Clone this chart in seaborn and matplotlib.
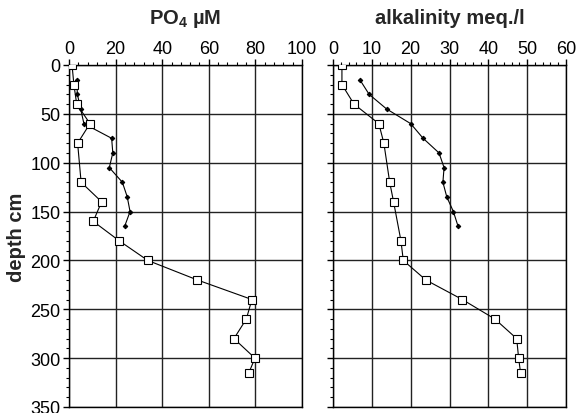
import matplotlib
matplotlib.use("Agg")
import matplotlib.pyplot as plt
import seaborn as sns
import pandas as pd
from matplotlib.ticker import MultipleLocator

# ---- data ----
sq_depth_po4 = [0, 20, 40, 60, 80, 120, 140, 160, 180, 200, 220, 240, 260, 280, 300, 315]
sq_po4 = [1.3, 2.1, 3.3, 9.0, 3.7, 5.2, 14.0, 10.4, 21.6, 33.8, 55.1, 78.5, 76.1, 70.8, 79.8, 77.2]
dot_depth = [15, 30, 45, 60, 75, 90, 105, 120, 135, 150, 165]
dot_po4 = [3.3, 3.6, 5.0, 6.4, 18.3, 18.8, 17.3, 22.9, 25.0, 26.2, 23.9]

sq_depth_alk = [0, 20, 40, 60, 80, 120, 140, 180, 200, 220, 240, 260, 280, 300, 315]
sq_alk = [2.3, 2.3, 5.4, 11.8, 13.1, 14.6, 15.6, 17.5, 18.1, 23.9, 33.3, 41.7, 47.3, 47.8, 48.3]
dot_alk = [6.9, 9.3, 13.8, 20.0, 23.2, 27.3, 28.6, 28.3, 29.3, 31.0, 32.2]

titles = [r"PO$_\mathbf{4}$ µM", "alkalinity meq./l"]
ylabel = "depth cm"

sns.set_theme(style="white")
plt.rcParams["font.family"] = ["Liberation Sans", "DejaVu Sans"]
plt.rcParams["mathtext.fontset"] = "custom"
plt.rcParams["mathtext.rm"] = "Liberation Sans"
plt.rcParams["mathtext.bf"] = "Liberation Sans:bold"

fig = plt.figure(figsize=(5.8, 4.14), dpi=100)
ax1 = fig.add_axes([69/580, 6/414, 233/580, 342/414])
ax2 = fig.add_axes([333/580, 6/414, 233/580, 342/414])

panels = [
    (ax1, sq_po4, sq_depth_po4, dot_po4, (0, 100), 20, 4),
    (ax2, sq_alk, sq_depth_alk, dot_alk, (0, 60), 10, 2),
]

for i, (ax, sx, sy, dx, xlim, major, minor) in enumerate(panels):
    dfs = pd.DataFrame({"x": sx, "y": sy})
    dfd = pd.DataFrame({"x": dx, "y": dot_depth})
    sns.lineplot(data=dfd, x="x", y="y", sort=False, estimator=None, ax=ax,
                 color="black", lw=0.8, marker="D", markersize=2.3,
                 markerfacecolor="black", markeredgecolor="black", zorder=3)
    sns.lineplot(data=dfs, x="x", y="y", sort=False, estimator=None, ax=ax,
                 color="black", lw=0.8, marker="s", markersize=5.5,
                 markerfacecolor="white", markeredgecolor="black",
                 markeredgewidth=0.8, zorder=4)
    ax.set_xlim(*xlim)
    ax.set_ylim(350, 0)
    ax.xaxis.set_major_locator(MultipleLocator(major))
    ax.xaxis.set_minor_locator(MultipleLocator(minor))
    ax.yaxis.set_major_locator(MultipleLocator(50))
    ax.yaxis.set_minor_locator(MultipleLocator(10))
    ax.xaxis.tick_top()
    ax.xaxis.set_label_position("top")
    ax.tick_params(axis="both", which="major", direction="out", length=4,
                   width=1, color="black", labelsize=13, pad=2,
                   labelcolor="black")
    ax.tick_params(axis="both", which="minor", direction="out", length=2.5,
                   width=0.8, color="black")
    ax.tick_params(axis="x", which="both", top=True, bottom=False)
    ax.tick_params(axis="y", which="both", left=True, right=False)
    ax.grid(True, which="major", color="#222222", lw=1)
    for s in ax.spines.values():
        s.set_color("black")
        s.set_linewidth(1)
    ax.set_xlabel("")
    ax.set_title(titles[i], fontsize=14.5, fontweight="bold", pad=30)
    if i == 0:
        ax.set_ylabel(ylabel, fontsize=14.5, fontweight="bold", labelpad=3)
    else:
        ax.set_ylabel("")
        ax.set_yticklabels([])

fig.savefig("out.png", dpi=100)
